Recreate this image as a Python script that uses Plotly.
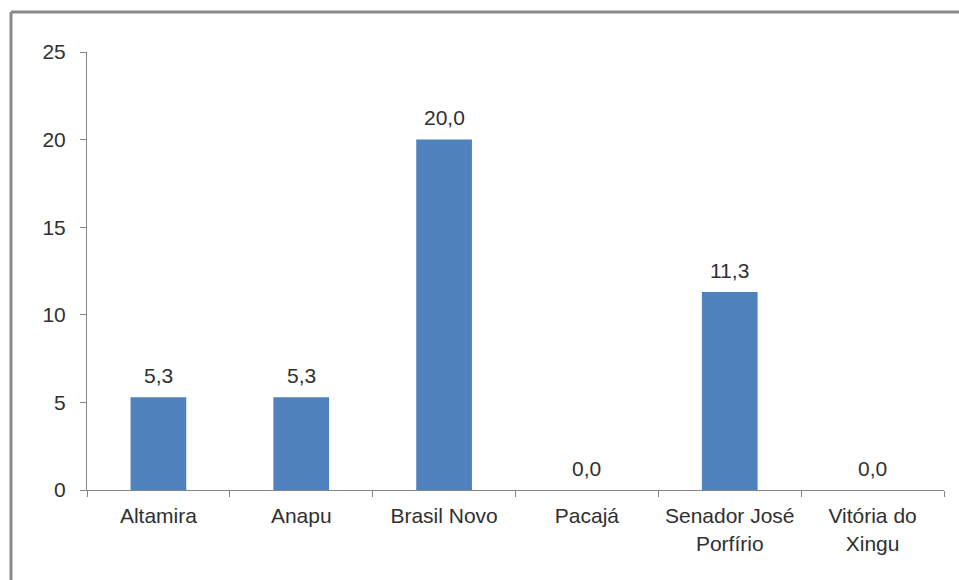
import plotly.graph_objects as go

# Municipalities and their values
municipios = ["Altamira", "Anapu", "Brasil Novo", "Pacajá",
              "Senador José<br>Porfírio", "Vitória do<br>Xingu"]
valores = [5.3, 5.3, 20.0, 0.0, 11.3, 0.0]
y_ticks = [0, 5, 10, 15, 20, 25]

W, H = 959, 580
L, R, T, B = 87, 15, 52, 90
pw, ph = W - L - R, H - T - B

font_color = "#303030"
axis_color = "#868686"
bar_color = "#4f81bd"
FONT = "Liberation Sans, Arial"
FS = 21

fig = go.Figure()
fig.add_trace(go.Bar(
    x=municipios, y=valores,
    marker=dict(color=bar_color, line=dict(width=0)),
    width=0.39,
    hoverinfo="skip",
))

# Value labels above each bar (decimal comma)
annotations = []
for cat, v in zip(municipios, valores):
    annotations.append(dict(
        x=cat, y=v, xref="x", yref="y",
        text=f"{v:.1f}".replace(".", ","),
        showarrow=False, yanchor="middle", yshift=22,
        font=dict(size=FS, color=font_color, family=FONT),
    ))

# Outer frame (left and top edges)
def px_x(p):
    return (p - L) / pw

def px_y(p):
    return (H - B - p) / ph

shapes = [
    dict(type="line", xref="paper", yref="paper",
         x0=px_x(11), x1=px_x(11), y0=px_y(12), y1=px_y(600),
         line=dict(color="#8a8a8a", width=3)),
    dict(type="line", xref="paper", yref="paper",
         x0=px_x(11), x1=px_x(990), y0=px_y(12), y1=px_y(12),
         line=dict(color="#8a8a8a", width=3)),
]

fig.update_layout(
    width=W, height=H,
    margin=dict(l=L, r=R, t=T, b=B),
    paper_bgcolor="white", plot_bgcolor="white",
    showlegend=False,
    font=dict(family=FONT, size=FS, color=font_color),
    annotations=annotations,
    shapes=shapes,
)
fig.update_xaxes(
    showline=True, linecolor=axis_color, linewidth=1,
    ticks="outside", tickson="boundaries", ticklen=6, tickcolor=axis_color,
    showgrid=False, zeroline=False,
    ticklabelstandoff=7,
    tickfont=dict(size=FS, color=font_color),
)
fig.update_yaxes(
    range=[0, 25], tickvals=y_ticks,
    showline=True, linecolor=axis_color, linewidth=1,
    ticks="outside", ticklen=6, tickcolor=axis_color,
    showgrid=False, zeroline=False,
    ticklabelstandoff=10,
    tickfont=dict(size=FS, color=font_color),
)

fig.write_html("out.html")
